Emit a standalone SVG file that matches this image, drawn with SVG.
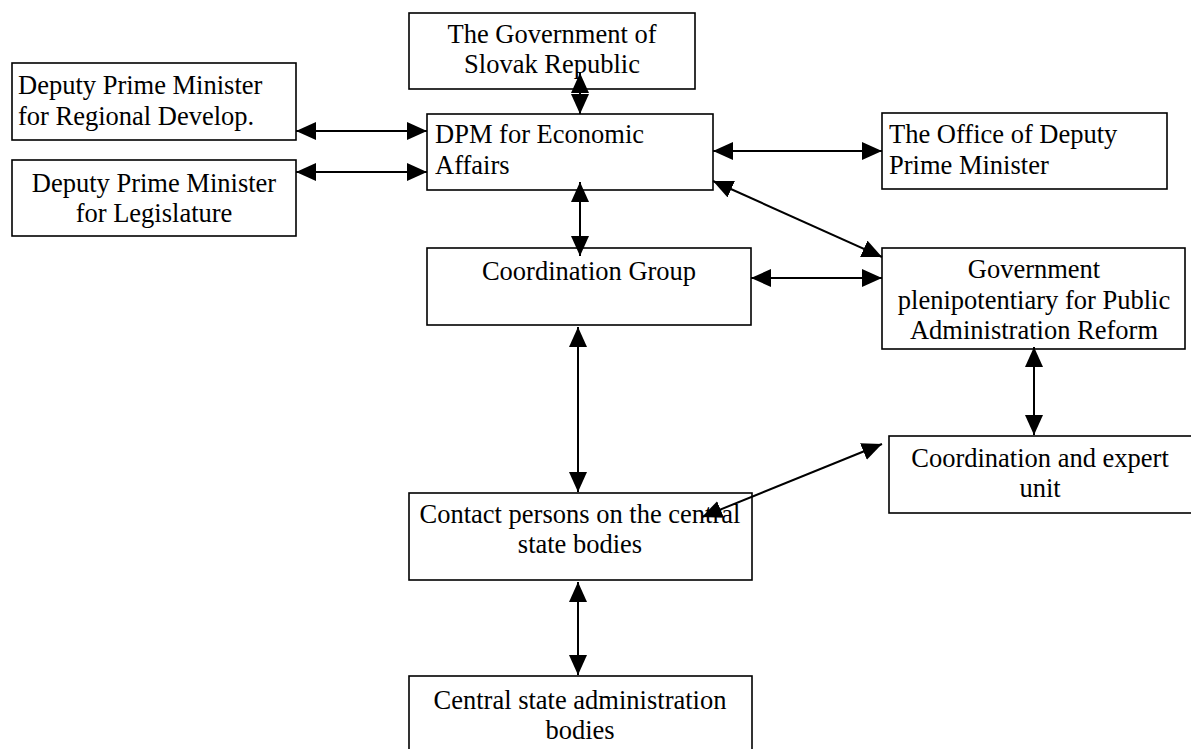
<svg xmlns="http://www.w3.org/2000/svg" width="1191" height="749" viewBox="0 0 1191 749">
<style>
.box{fill:#fff;stroke:#000;stroke-width:1.6}
.t{font-family:"Liberation Serif","Tinos","Times New Roman",Times,"Noto Serif","DejaVu Serif",serif;font-size:26.5px;fill:#000}
.c{text-anchor:middle}
.conn line{stroke:#000;stroke-width:2;marker-start:url(#ah);marker-end:url(#ah)}
</style>
<defs>
<marker id="ah" markerUnits="userSpaceOnUse" markerWidth="20" markerHeight="18" refX="20" refY="9" orient="auto-start-reverse" viewBox="0 0 20 18">
<path d="M0,0 L20,9 L0,18 z" fill="#000"/>
</marker>
</defs>
<rect width="1191" height="749" fill="#fff"/>
<g id="n-regional"><rect class="box" x="12" y="63" width="284" height="77"/>
<text class="t" x="18" y="94">Deputy Prime Minister</text><text class="t" x="18" y="125">for Regional Develop.</text></g>
<g id="n-legislature"><rect class="box" x="12" y="160" width="284" height="76"/>
<text class="t c" x="154" y="192">Deputy Prime Minister</text><text class="t c" x="154" y="222">for Legislature</text></g>
<g id="n-government"><rect class="box" x="409" y="13" width="286" height="76"/>
<text class="t c" x="552" y="43">The Government of</text><text class="t c" x="552" y="73">Slovak Republic</text></g>
<g id="n-dpm"><rect class="box" x="427" y="114" width="286" height="76"/>
<text class="t" x="435" y="143">DPM for Economic</text><text class="t" x="435" y="174">Affairs</text></g>
<g id="n-office"><rect class="box" x="882" y="113" width="285" height="76"/>
<text class="t" x="889" y="143">The Office of Deputy</text><text class="t" x="889" y="174">Prime Minister</text></g>
<g id="n-coord"><rect class="box" x="427" y="248" width="324" height="77"/>
<text class="t c" x="589" y="280">Coordination Group</text></g>
<g id="n-plen"><rect class="box" x="882" y="248" width="303" height="101"/>
<text class="t c" x="1034" y="278">Government</text><text class="t c" x="1034" y="309">plenipotentiary for Public</text><text class="t c" x="1034" y="339">Administration Reform</text></g>
<g id="n-expert"><rect class="box" x="889" y="436" width="310" height="77"/>
<text class="t c" x="1040" y="467">Coordination and expert</text><text class="t c" x="1040" y="497">unit</text></g>
<g id="n-contact"><rect class="box" x="409" y="493" width="343" height="87"/>
<text class="t c" x="580" y="523">Contact persons on the central</text><text class="t c" x="580" y="553">state bodies</text></g>
<g id="n-central"><rect class="box" x="409" y="676" width="343" height="90"/>
<text class="t c" x="580" y="709">Central state administration</text><text class="t c" x="580" y="739">bodies</text></g>
<g id="connectors" class="conn">
<line x1="296" y1="131" x2="427" y2="131"/>
<line x1="296" y1="172" x2="427" y2="172"/>
<line x1="580" y1="73" x2="580" y2="114"/>
<line x1="713" y1="151" x2="882" y2="151"/>
<line x1="713" y1="181" x2="882" y2="257"/>
<line x1="580" y1="182" x2="580" y2="256"/>
<line x1="751" y1="278" x2="882" y2="278"/>
<line x1="578" y1="327" x2="578" y2="492"/>
<line x1="1034" y1="347" x2="1034" y2="435"/>
<line x1="882" y1="444" x2="702" y2="517"/>
<line x1="578" y1="582" x2="578" y2="675"/>
</g>
</svg>
